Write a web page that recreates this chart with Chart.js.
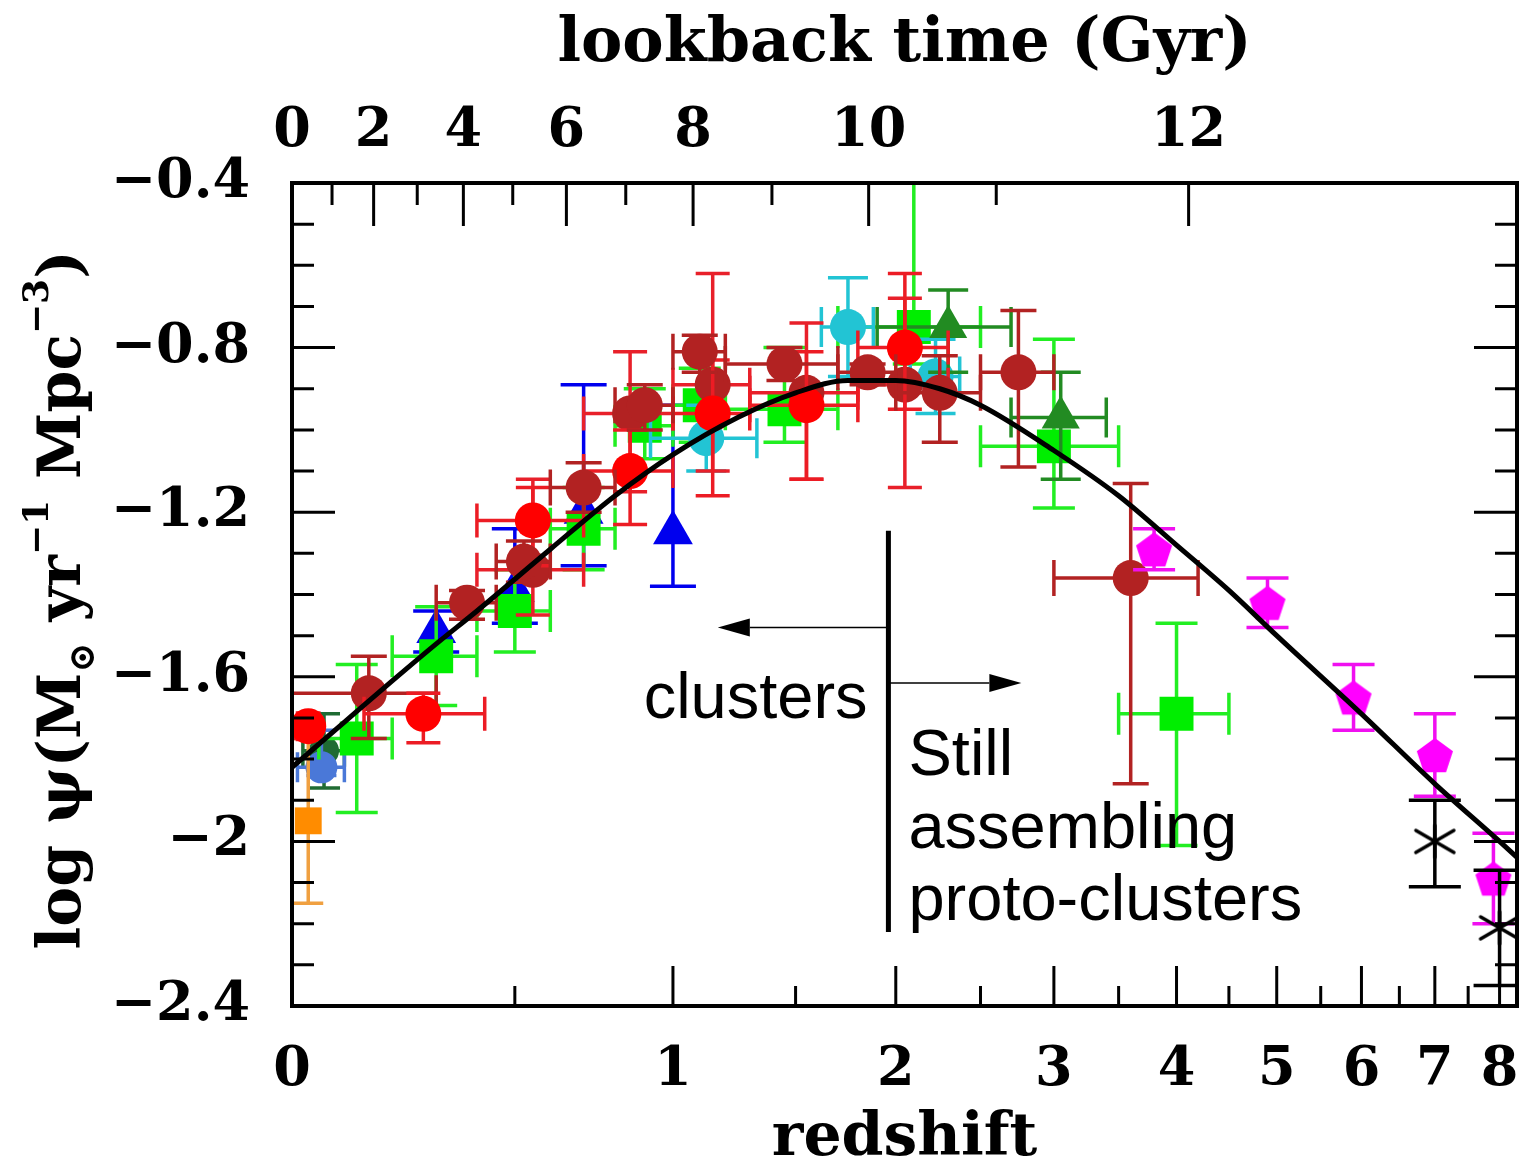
<!DOCTYPE html>
<html>
<head>
<meta charset="utf-8">
<title>Cosmic star formation history</title>
<script src="https://cdn.jsdelivr.net/npm/chart.js@4.4.1/dist/chart.umd.min.js"></script>
<style>
  html, body { margin: 0; padding: 0; background: #fff; }
  #wrap { width: 1519px; height: 1166px; }
</style>
</head>
<body>
<div id="wrap"><canvas id="sfh"></canvas></div>
<script>
// Data. Each row: [z, zLow, zHigh, log psi, err+, err-]
// (zLow/zHigh null where the point has no redshift bar)
const sanders03 = [[0.03, 0.01, 0.05, -1.72, 0.02, 0.03]];
const takeuchi05 = [[0.03, null, null, -1.95, 0.20, 0.20]];
const irLowZ = [[0.27, 0.14, 0.42, -1.69, 0.05, 0.07]];
const wyder05 = [[0.055, 0.01, 0.10, -1.82, 0.09, 0.02]];
const robotham11 = [[0.06, 0.02, 0.10, -1.78, 0.09, 0.09]];
const schiminovich05 = [
    [0.3, null, null, -1.49, 0.05, 0.05],
    [0.5, null, null, -1.39, 0.15, 0.08],
    [0.7, null, null, -1.20, 0.31, 0.13],
    [1.0, null, null, -1.25, 0.31, 0.13]
];
const cucciati12 = [
    [0.125, 0.05, 0.20, -1.75, 0.18, 0.18],
    [0.30, 0.20, 0.40, -1.55, 0.12, 0.12],
    [0.50, 0.40, 0.60, -1.44, 0.10, 0.10],
    [0.70, 0.60, 0.80, -1.24, 0.10, 0.10],
    [0.90, 0.80, 1.00, -0.99, 0.09, 0.08],
    [1.10, 1.00, 1.20, -0.94, 0.09, 0.09],
    [1.45, 1.20, 1.70, -0.95, 0.15, 0.08],
    [2.10, 1.70, 2.50, -0.75, 0.49, 0.09],
    [3.00, 2.50, 3.50, -1.04, 0.26, 0.15],
    [4.00, 3.50, 4.50, -1.69, 0.22, 0.32]
];
const dahlen07 = [
    [1.125, 0.92, 1.33, -1.02, 0.08, 0.08],
    [1.75, 1.62, 1.88, -0.75, 0.12, 0.12],
    [2.225, 2.08, 2.37, -0.87, 0.09, 0.09]
];
const reddy09 = [
    [2.30, 1.90, 2.70, -0.75, 0.09, 0.11],
    [3.05, 2.70, 3.40, -0.97, 0.11, 0.15]
];
const magnelli11 = [
    [0.55, 0.40, 0.70, -1.34, 0.22, 0.11],
    [0.85, 0.70, 1.00, -0.96, 0.15, 0.19],
    [1.15, 1.00, 1.30, -0.89, 0.27, 0.21],
    [1.55, 1.30, 1.80, -0.91, 0.17, 0.21],
    [2.05, 1.80, 2.30, -0.89, 0.21, 0.25]
];
const magnelli13 = [
    [0.55, 0.40, 0.70, -1.22, 0.08, 0.11],
    [0.85, 0.70, 1.00, -1.10, 0.10, 0.13],
    [1.15, 1.00, 1.30, -0.96, 0.13, 0.20],
    [1.55, 1.30, 1.80, -0.94, 0.13, 0.18],
    [2.05, 1.80, 2.30, -0.80, 0.18, 0.15]
];
const gruppioni13 = [
    [0.15, 0.00, 0.30, -1.64, 0.09, 0.11],
    [0.375, 0.30, 0.45, -1.42, 0.03, 0.04],
    [0.525, 0.45, 0.60, -1.32, 0.05, 0.05],
    [0.70, 0.60, 0.80, -1.14, 0.06, 0.06],
    [0.90, 0.80, 1.00, -0.94, 0.05, 0.06],
    [1.10, 1.00, 1.20, -0.81, 0.04, 0.05],
    [1.45, 1.20, 1.70, -0.84, 0.04, 0.04],
    [1.85, 1.70, 2.00, -0.86, 0.02, 0.03],
    [2.25, 2.00, 2.50, -0.91, 0.09, 0.12],
    [2.75, 2.50, 3.00, -0.86, 0.15, 0.23],
    [3.60, 3.00, 4.20, -1.36, 0.23, 0.50]
];
const bouwens12 = [
    [3.8, null, null, -1.29, 0.05, 0.05],
    [4.9, null, null, -1.42, 0.06, 0.06],
    [5.9, null, null, -1.65, 0.08, 0.08],
    [7.0, null, null, -1.79, 0.10, 0.10],
    [7.9, null, null, -2.09, 0.11, 0.11]
];
const schenker13 = [
    [7.0, null, null, -2.00, 0.10, 0.11],
    [8.0, null, null, -2.21, 0.14, 0.14]
];

// best-fit curve
const fitZ = [0, 0.1, 0.2, 0.3, 0.4, 0.6, 0.8, 1.0, 1.25, 1.5, 1.75, 2.0, 2.25, 2.5, 3.0, 3.5, 4.0, 4.5, 5.0, 6.0, 7.0, 8.0, 8.3];
const fitPsi = [-1.82, -1.71, -1.61, -1.52, -1.44, -1.29, -1.16, -1.06, -0.97, -0.91, -0.88, -0.88, -0.90, -0.94, -1.05, -1.16, -1.28, -1.39, -1.50, -1.69, -1.86, -2.00, -2.04];

// axis ticks
const zTicks = [0, 1, 2, 3, 4, 5, 6, 7, 8];
const zTickLabels = ['0', '1', '2', '3', '4', '5', '6', '7', '8'];
const zMinorTicks = [0.5, 1.5, 2.5, 3.5, 4.5, 5.5, 6.5, 7.5];
const lookbackTicks = [0, 2, 4, 6, 8, 10, 12];
const lookbackLabels = ['0', '2', '4', '6', '8', '10', '12'];
const lookbackMinor = [1, 3, 5, 7, 9, 11];
const yTicks = [-0.4, -0.8, -1.2, -1.6, -2.0, -2.4];
const yTickLabels = ['\u22120.4', '\u22120.8', '\u22121.2', '\u22121.6', '\u22122', '\u22122.4'];
const Z_MAX = 8.29;

// x axis is log(1+z)
const lz = z => Math.log10(1 + z);

// flat LCDM (H0=70, Om=0.3, OL=0.7) to place the lookback-time ticks
const hubbleTime = 977.8 / 70;
const cosA = 2 * hubbleTime / (3 * Math.sqrt(0.7));
const cosK = Math.sqrt(0.7 / 0.3);
const ageNow = cosA * Math.asinh(cosK);
function zFromLookback(t) {
    const age = ageNow - t;
    return Math.pow(Math.sinh(age / cosA) / cosK, -2 / 3) - 1;
}

function pentagonMarker(color, r) {
    const c = document.createElement('canvas');
    const s = Math.ceil(2 * r + 4);
    c.width = s; c.height = s;
    const g = c.getContext('2d');
    g.fillStyle = color;
    g.beginPath();
    for (let i = 0; i < 5; i++) {
        const a = -Math.PI / 2 + i * 2 * Math.PI / 5;
        const px = s / 2 + r * Math.cos(a), py = s / 2 + 2 + r * Math.sin(a);
        if (i) g.lineTo(px, py); else g.moveTo(px, py);
    }
    g.closePath();
    g.fill();
    return c;
}

function asteriskMarker(color) {
    const c = document.createElement('canvas');
    c.width = 48; c.height = 40;
    const g = c.getContext('2d');
    g.strokeStyle = color;
    g.lineWidth = 3.5;
    g.lineCap = 'round';
    g.beginPath();
    g.moveTo(5, 9); g.lineTo(43, 31);
    g.moveTo(43, 9); g.lineTo(5, 31);
    g.moveTo(24, 4); g.lineTo(24, 36);
    g.stroke();
    return c;
}

function survey(rows, opts) {
    return Object.assign({
        rows: rows,
        data: rows.map(r => ({ x: lz(r[0]), y: r[3] })),
        pointBorderWidth: 0,
        showLine: false
    }, opts);
}

// error bars drawn just under each dataset's markers
const errorBars = {
    id: 'errorBars',
    beforeDatasetDraw(chart, args) {
        const ds = chart.data.datasets[args.index];
        if (!ds.rows) return;
        const { ctx, chartArea: a, scales: { x, y } } = chart;
        const c = ds.cap;
        ctx.save();
        ctx.beginPath();
        ctx.rect(a.left, a.top, a.right - a.left, a.bottom - a.top);
        ctx.clip();
        ctx.strokeStyle = ds.barColor;
        ctx.lineWidth = 3.5;
        ds.rows.forEach(r => {
            const px = x.getPixelForValue(lz(r[0]));
            const py = y.getPixelForValue(r[3]);
            const yt = y.getPixelForValue(r[3] + r[4]);
            const yb = y.getPixelForValue(r[3] - r[5]);
            ctx.beginPath();
            ctx.moveTo(px, yt); ctx.lineTo(px, yb);
            ctx.moveTo(px - c, yt); ctx.lineTo(px + c, yt);
            ctx.moveTo(px - c, yb); ctx.lineTo(px + c, yb);
            if (r[1] !== null) {
                const xl = x.getPixelForValue(lz(r[1]));
                const xr = x.getPixelForValue(lz(r[2]));
                ctx.moveTo(xl, py); ctx.lineTo(xr, py);
                ctx.moveTo(xl, py - c); ctx.lineTo(xl, py + c);
                ctx.moveTo(xr, py - c); ctx.lineTo(xr, py + c);
            }
            ctx.stroke();
        });
        ctx.restore();
    }
};

// box frame and inward ticks on all four sides
const frameTicks = {
    id: 'frameTicks',
    afterDatasetsDraw(chart) {
        const { ctx, chartArea: a, scales: { x, y } } = chart;
        ctx.save();
        ctx.strokeStyle = '#000';
        ctx.lineWidth = 3;
        ctx.beginPath();
        for (let k = 0; k <= 20; k++) {
            const py = y.getPixelForValue(-0.4 - k * 0.1);
            const len = k % 4 === 0 ? 43 : 22;
            ctx.moveTo(a.left, py); ctx.lineTo(a.left + len, py);
            ctx.moveTo(a.right, py); ctx.lineTo(a.right - len, py);
        }
        zTicks.forEach(z => {
            const px = x.getPixelForValue(lz(z));
            ctx.moveTo(px, a.bottom); ctx.lineTo(px, a.bottom - 40);
        });
        zMinorTicks.forEach(z => {
            const px = x.getPixelForValue(lz(z));
            ctx.moveTo(px, a.bottom); ctx.lineTo(px, a.bottom - 20);
        });
        lookbackTicks.forEach(t => {
            const px = x.getPixelForValue(lz(zFromLookback(t)));
            ctx.moveTo(px, a.top); ctx.lineTo(px, a.top + 43);
        });
        lookbackMinor.forEach(t => {
            const px = x.getPixelForValue(lz(zFromLookback(t)));
            ctx.moveTo(px, a.top); ctx.lineTo(px, a.top + 22);
        });
        ctx.stroke();
        ctx.lineWidth = 4;
        ctx.strokeRect(a.left, a.top, a.right - a.left, a.bottom - a.top);
        ctx.restore();
    }
};

// y title with sub/superscripts, and the cluster annotations
const yTitleParts = [
    { t: 'log \u03c8(M', k: 'main' },
    { t: '\u2299', k: 'sub' },
    { t: ' yr', k: 'main' },
    { t: '\u22121', k: 'sup' },
    { t: ' Mpc', k: 'main' },
    { t: '\u22123', k: 'sup' },
    { t: ')', k: 'main' }
];
const splitZ = 1.96;
const splitTop = -1.245, splitBottom = -2.22;
const leftArrow = { psi: -1.48, zTip: 1.17 };
const rightArrow = { psi: -1.615, zTip: 2.77 };
const clusterLabel = { z: 1.85, psi: -1.70, text: 'clusters' };
const protoLabel = { z: 2.07, psi: -1.839, lines: ['Still', 'assembling', 'proto-clusters'] };

const annotations = {
    id: 'annotations',
    afterDraw(chart) {
        const { ctx, scales: { x, y } } = chart;
        ctx.save();

        // y axis title
        const fonts = {
            main: 'bold 60px "DejaVu Serif"',
            sub: 'bold 36px "DejaVu Serif"',
            sup: 'bold 36px "DejaVu Serif"'
        };
        const base = { main: 23, sub: 37, sup: -9 };
        ctx.translate(57, 600);
        ctx.rotate(-Math.PI / 2);
        let total = 0;
        yTitleParts.forEach(p => { ctx.font = fonts[p.k]; p.w = ctx.measureText(p.t).width; total += p.w; });
        let cx = -total / 2;
        ctx.fillStyle = '#000';
        ctx.textBaseline = 'alphabetic';
        ctx.textAlign = 'left';
        yTitleParts.forEach(p => {
            ctx.font = fonts[p.k];
            ctx.fillText(p.t, cx, base[p.k]);
            cx += p.w;
        });
        ctx.setTransform(1, 0, 0, 1, 0, 0);

        // divider and arrows
        const sx = x.getPixelForValue(lz(splitZ));
        ctx.strokeStyle = '#000';
        ctx.lineWidth = 5;
        ctx.beginPath();
        ctx.moveTo(sx, y.getPixelForValue(splitTop));
        ctx.lineTo(sx, y.getPixelForValue(splitBottom));
        ctx.stroke();

        function arrow(psi, zTip) {
            const py = y.getPixelForValue(psi);
            const tip = x.getPixelForValue(lz(zTip));
            const dir = tip < sx ? -1 : 1;
            const headLen = 32, headHalf = 9;
            ctx.lineWidth = 1.5;
            ctx.beginPath();
            ctx.moveTo(sx, py);
            ctx.lineTo(tip - dir * headLen, py);
            ctx.stroke();
            ctx.beginPath();
            ctx.moveTo(tip, py);
            ctx.lineTo(tip - dir * headLen, py - headHalf);
            ctx.lineTo(tip - dir * headLen, py + headHalf);
            ctx.closePath();
            ctx.fill();
        }
        arrow(leftArrow.psi, leftArrow.zTip);
        arrow(rightArrow.psi, rightArrow.zTip);

        ctx.font = '65px "Liberation Sans"';
        ctx.textAlign = 'right';
        ctx.fillText(clusterLabel.text, x.getPixelForValue(lz(clusterLabel.z)), y.getPixelForValue(clusterLabel.psi));
        ctx.textAlign = 'left';
        const lx = x.getPixelForValue(lz(protoLabel.z));
        const ly = y.getPixelForValue(protoLabel.psi);
        protoLabel.lines.forEach((t, i) => ctx.fillText(t, lx, ly + i * 72.5));
        ctx.restore();
    }
};

const tickFont = { family: 'DejaVu Serif', weight: 'bold', size: 54 };

const datasets = [
    {
        type: 'line',
        data: fitZ.map((z, i) => ({ x: lz(z), y: fitPsi[i] })),
        borderColor: '#000',
        borderWidth: 5,
        pointRadius: 0,
        showLine: true,
        fill: false,
        cubicInterpolationMode: 'monotone'
    },
    survey(schenker13, { pointStyle: asteriskMarker('#000'), pointRadius: 20, backgroundColor: '#000', barColor: '#000', cap: 26 }),
    survey(bouwens12, { pointStyle: pentagonMarker('#ff00ff', 19), pointRadius: 19, backgroundColor: '#ff00ff', barColor: '#f010f0', cap: 21 }),
    survey(sanders03, { pointStyle: 'circle', pointRadius: 18, backgroundColor: '#ff0000', barColor: '#ec1c24', cap: 15 }),
    survey(irLowZ, { pointStyle: 'circle', pointRadius: 18, backgroundColor: '#ff0000', barColor: '#ec1c24', cap: 17 }),
    survey(gruppioni13, { pointStyle: 'circle', pointRadius: 18, backgroundColor: '#b22222', barColor: '#b22222', cap: 18 }),
    survey(magnelli13, { pointStyle: 'circle', pointRadius: 18, backgroundColor: '#ff0000', barColor: '#ec1c24', cap: 17 }),
    survey(magnelli11, { pointStyle: 'circle', pointRadius: 18, backgroundColor: '#b22222', barColor: '#e8202a', cap: 17 }),
    survey(reddy09, { pointStyle: 'triangle', pointRadius: 22, backgroundColor: '#228b22', barColor: '#228b22', cap: 20 }),
    survey(dahlen07, { pointStyle: 'circle', pointRadius: 18, backgroundColor: '#22c4d4', barColor: '#22c4d4', cap: 20 }),
    survey(cucciati12, { pointStyle: 'rect', pointRadius: 24, backgroundColor: '#00ee00', barColor: '#22ee22', cap: 21 }),
    survey(schiminovich05, { pointStyle: 'triangle', pointRadius: 23, backgroundColor: '#0000ee', barColor: '#0000ee', cap: 23 }),
    survey(takeuchi05, { pointStyle: 'rect', pointRadius: 19, backgroundColor: '#ff8c00', barColor: '#f0a040', cap: 15 }),
    survey(wyder05, { pointStyle: 'circle', pointRadius: 16, backgroundColor: '#4a78d8', barColor: '#4a78d8', cap: 15 }),
    survey(robotham11, { pointStyle: 'circle', pointRadius: 15, backgroundColor: '#1f6b33', barColor: '#1f6b33', cap: 16 })
];

new Chart(document.getElementById('sfh'), {
    type: 'scatter',
    data: { datasets: datasets },
    options: {
        responsive: true,
        maintainAspectRatio: false,
        animation: false,
        events: [],
        layout: { padding: { left: 0, right: 2, top: 0, bottom: 0 }, autoPadding: false },
        plugins: { legend: { display: false }, tooltip: { enabled: false } },
        scales: {
            x: {
                type: 'linear',
                position: 'bottom',
                min: 0,
                max: lz(Z_MAX),
                grid: { display: false, drawTicks: false },
                border: { display: false },
                afterBuildTicks: s => { s.ticks = zTicks.map(z => ({ value: lz(z) })); },
                ticks: {
                    autoSkip: false, maxRotation: 0, minRotation: 0, padding: 33,
                    font: tickFont, color: '#000',
                    callback: (v, i) => zTickLabels[i]
                },
                title: {
                    display: true, text: 'redshift', color: '#000',
                    font: { family: 'DejaVu Serif', weight: 'bold', size: 60, lineHeight: 0.84 },
                    padding: { top: 0, bottom: 1 }
                },
                afterFit: s => { s.height = 160; s.paddingLeft = 0; s.paddingRight = 0; }
            },
            x2: {
                type: 'linear',
                position: 'top',
                min: 0,
                max: lz(Z_MAX),
                grid: { display: false, drawTicks: false },
                border: { display: false },
                afterBuildTicks: s => { s.ticks = lookbackTicks.map(t => ({ value: lz(zFromLookback(t)) })); },
                ticks: {
                    autoSkip: false, maxRotation: 0, minRotation: 0, padding: 19,
                    font: tickFont, color: '#000',
                    callback: (v, i) => lookbackLabels[i]
                },
                title: {
                    display: true, text: 'lookback time (Gyr)', color: '#000',
                    font: { family: 'DejaVu Serif', weight: 'bold', size: 62, lineHeight: 1 },
                    padding: { top: 14, bottom: 0 }
                },
                afterFit: s => { s.height = 183; s.paddingLeft = 0; s.paddingRight = 0; }
            },
            y: {
                type: 'linear',
                position: 'left',
                min: -2.4,
                max: -0.4,
                grid: { display: false, drawTicks: false },
                border: { display: false },
                afterBuildTicks: s => { s.ticks = yTicks.map(v => ({ value: v })); },
                ticks: {
                    autoSkip: false, padding: 42,
                    font: tickFont, color: '#000',
                    callback: (v, i) => yTickLabels[i]
                },
                afterFit: s => { s.width = 292; s.paddingTop = 0; s.paddingBottom = 0; }
            }
        }
    },
    plugins: [errorBars, frameTicks, annotations]
});
</script>
</body>
</html>
